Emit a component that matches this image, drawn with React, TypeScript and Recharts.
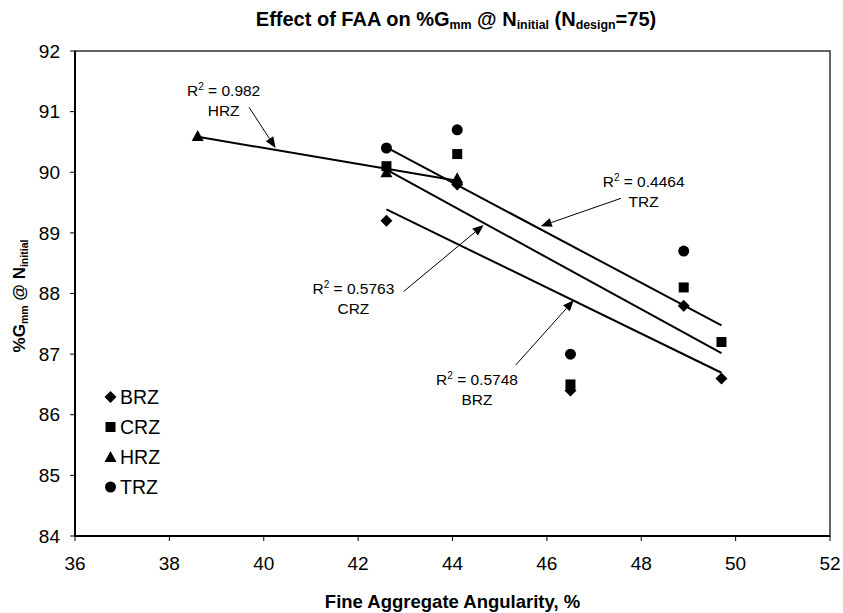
import { ScatterChart, Scatter, XAxis, YAxis, ReferenceArea, ReferenceLine, ReferenceDot } from 'recharts';

// measured mixes, FAA (%) vs %Gmm @ Ninitial
const brzFaa = [42.6, 44.1, 46.5, 48.9, 49.7];
const brzGmm = [89.2, 89.8, 86.4, 87.8, 86.6];
const crzFaa = [42.6, 44.1, 46.5, 48.9, 49.7];
const crzGmm = [90.1, 90.3, 86.5, 88.1, 87.2];
const hrzFaa = [38.6, 42.6, 44.1];
const hrzGmm = [90.6, 90.0, 89.9];
const trzFaa = [42.6, 44.1, 46.5, 48.9];
const trzGmm = [90.4, 90.7, 87.0, 88.7];

const xTicks = [36, 38, 40, 42, 44, 46, 48, 50, 52];
const yTicks = [84, 85, 86, 87, 88, 89, 90, 91, 92];

// Excel trendline forecast forward (TRZ only)
const trzForward = 0.8;

// R² call-outs: text anchor and arrow (from -> to), in data units
const notes = [
  { name: 'HRZ', r2: '0.982', x: 39.15, y: 91.2, from: [39.69, 91.07], to: [40.25, 90.4] },
  { name: 'CRZ', r2: '0.5763', x: 41.9, y: 87.93, from: [42.96, 88.03], to: [44.66, 89.13] },
  { name: 'TRZ', r2: '0.4464', x: 48.05, y: 89.69, from: [47.57, 89.57], to: [45.87, 89.11] },
  { name: 'BRZ', r2: '0.5748', x: 44.52, y: 86.42, from: [45.34, 86.82], to: [46.57, 87.89] },
];

const FONT = 'Arial, "Liberation Sans", sans-serif';

const pts = (xs: number[], ys: number[]) => xs.map((x, i) => ({ x, y: ys[i] }));

function fit(xs: number[], ys: number[], forward = 0) {
  const n = xs.length;
  const mx = xs.reduce((a, b) => a + b, 0) / n;
  const my = ys.reduce((a, b) => a + b, 0) / n;
  let sxy = 0;
  let sxx = 0;
  xs.forEach((x, i) => {
    sxy += (x - mx) * (ys[i] - my);
    sxx += (x - mx) * (x - mx);
  });
  const b = sxy / sxx;
  const x0 = Math.min(...xs);
  const x1 = Math.max(...xs) + forward;
  return [
    { x: x0, y: my + b * (x0 - mx) },
    { x: x1, y: my + b * (x1 - mx) },
  ];
}

const Diamond = (p: any) => (
  <polygon points={`${p.cx},${p.cy - 6} ${p.cx + 6},${p.cy} ${p.cx},${p.cy + 6} ${p.cx - 6},${p.cy}`} fill="#000" />
);
const Square = (p: any) => <rect x={p.cx - 5} y={p.cy - 5} width={10} height={10} fill="#000" />;
const Triangle = (p: any) => (
  <polygon points={`${p.cx},${p.cy - 6} ${p.cx + 6},${p.cy + 5} ${p.cx - 6},${p.cy + 5}`} fill="#000" />
);
const Circle = (p: any) => <circle cx={p.cx} cy={p.cy} r={5.5} fill="#000" />;
const NoDot = () => <g />;

const Arrow = (p: any) => {
  const { x1, y1, x2, y2 } = p;
  const a = Math.atan2(y2 - y1, x2 - x1);
  const L = 11;
  const W = 4.5;
  const bx = x2 - L * Math.cos(a);
  const by = y2 - L * Math.sin(a);
  const nx = -Math.sin(a) * W;
  const ny = Math.cos(a) * W;
  return (
    <g>
      <line x1={x1} y1={y1} x2={bx} y2={by} stroke="#000" strokeWidth={1} />
      <polygon points={`${x2},${y2} ${bx + nx},${by + ny} ${bx - nx},${by - ny}`} fill="#000" />
    </g>
  );
};

const noteLabel = (name: string, r2: string) => (p: any) => (
  <g fontFamily={FONT} fontSize={15.5} fill="#000">
    <text x={p.cx} y={p.cy - 4} textAnchor="middle">
      <tspan>R</tspan>
      <tspan dy={-6} fontSize={10}>2</tspan>
      <tspan dy={6}> = {r2}</tspan>
    </text>
    <text x={p.cx} y={p.cy + 16} textAnchor="middle">{name}</text>
  </g>
);

const legendItems = [
  { name: 'BRZ', Shape: Diamond },
  { name: 'CRZ', Shape: Square },
  { name: 'HRZ', Shape: Triangle },
  { name: 'TRZ', Shape: Circle },
];

const sub = { fontSize: '0.62em', verticalAlign: '-0.25em' } as const;

export default function App() {
  return (
    <div style={{ position: 'relative', width: 843, height: 613, background: '#fff', fontFamily: FONT }}>
      <style>{'body{margin:0}'}</style>
      <div
        style={{
          position: 'absolute', left: 456, top: 20, transform: 'translate(-50%,-50%)',
          whiteSpace: 'nowrap', fontWeight: 'bold', fontSize: 20, lineHeight: 1,
        }}
      >
        Effect of FAA on %G<span style={sub}>mm</span> @ N<span style={sub}>initial</span> (N<span style={sub}>design</span>=75)
      </div>
      <div
        style={{
          position: 'absolute', left: 20, top: 296, transform: 'translate(-50%,-50%) rotate(-90deg)',
          whiteSpace: 'nowrap', fontWeight: 'bold', fontSize: 17, lineHeight: 1,
        }}
      >
        %G<span style={sub}>mm</span> @ N<span style={sub}>initial</span>
      </div>

      <ScatterChart width={843} height={613} margin={{ top: 51, right: 13, bottom: 0, left: 0 }}>
        <XAxis
          type="number" dataKey="x" domain={[36, 52]} ticks={xTicks} height={77}
          axisLine={{ stroke: '#000', strokeWidth: 2 }} tickLine={{ stroke: '#000' }} tickSize={5} tickMargin={16}
          tick={{ fill: '#000', fontSize: 19, fontFamily: FONT }}
          label={{
            content: (p: any) => (
              <text
                x={p.viewBox.x + p.viewBox.width / 2} y={p.viewBox.y + 72} textAnchor="middle"
                fontFamily={FONT} fontWeight="bold" fontSize={18.5} fill="#000"
              >
                Fine Aggregate Angularity, %
              </text>
            ),
          }}
        />
        <YAxis
          type="number" dataKey="y" domain={[84, 92]} ticks={yTicks} width={75}
          axisLine={{ stroke: '#000', strokeWidth: 2 }} tickLine={{ stroke: '#000' }} tickSize={5} tickMargin={10}
          tick={{ fill: '#000', fontSize: 19, fontFamily: FONT }}
        />
        <ReferenceArea x1={36} x2={52} y1={84} y2={92} fill="none" stroke="#333" strokeWidth={1.5} />

        <Scatter data={fit(brzFaa, brzGmm)} line={{ stroke: '#000', strokeWidth: 2 }} shape={NoDot} isAnimationActive={false} />
        <Scatter data={fit(crzFaa, crzGmm)} line={{ stroke: '#000', strokeWidth: 2 }} shape={NoDot} isAnimationActive={false} />
        <Scatter data={fit(hrzFaa, hrzGmm)} line={{ stroke: '#000', strokeWidth: 2 }} shape={NoDot} isAnimationActive={false} />
        <Scatter data={fit(trzFaa, trzGmm, trzForward)} line={{ stroke: '#000', strokeWidth: 2 }} shape={NoDot} isAnimationActive={false} />

        <Scatter name="BRZ" data={pts(brzFaa, brzGmm)} shape={Diamond} isAnimationActive={false} />
        <Scatter name="CRZ" data={pts(crzFaa, crzGmm)} shape={Square} isAnimationActive={false} />
        <Scatter name="HRZ" data={pts(hrzFaa, hrzGmm)} shape={Triangle} isAnimationActive={false} />
        <Scatter name="TRZ" data={pts(trzFaa, trzGmm)} shape={Circle} isAnimationActive={false} />

        {notes.map((n) => (
          <ReferenceLine
            key={'a' + n.name}
            segment={[{ x: n.from[0], y: n.from[1] }, { x: n.to[0], y: n.to[1] }]}
            shape={Arrow}
          />
        ))}
        {notes.map((n) => (
          <ReferenceDot key={'t' + n.name} x={n.x} y={n.y} r={0} shape={noteLabel(n.name, n.r2)} />
        ))}
      </ScatterChart>

      <div style={{ position: 'absolute', left: 104, top: 382, fontSize: 19.5, lineHeight: '30px' }}>
        {legendItems.map(({ name, Shape }) => (
          <div key={name} style={{ display: 'flex', alignItems: 'center', height: 30 }}>
            <svg width={13} height={14} style={{ marginRight: 3 }}>
              <Shape cx={6.5} cy={7} />
            </svg>
            {name}
          </div>
        ))}
      </div>
    </div>
  );
}
